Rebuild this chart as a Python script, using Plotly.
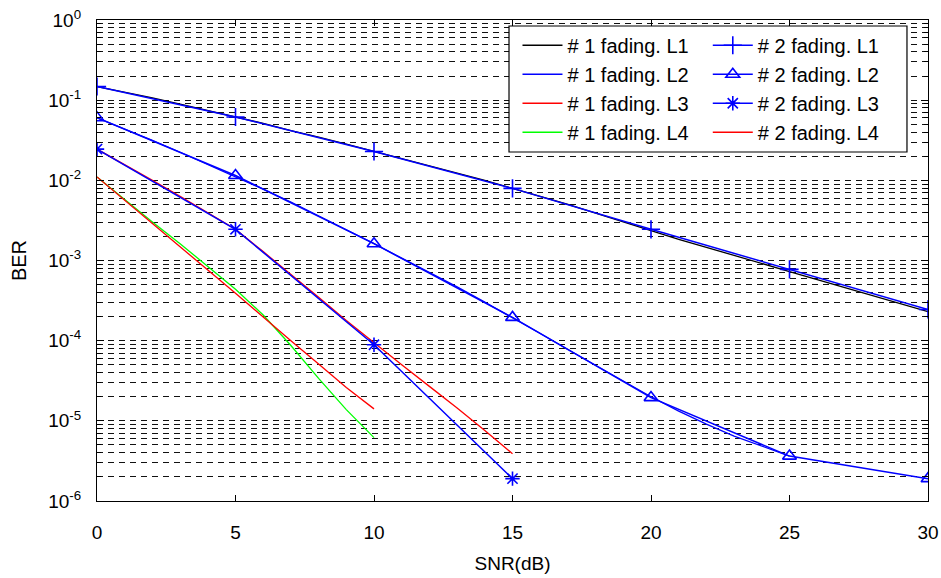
import plotly.graph_objects as go

# ---------------- data ----------------
snr_sim_l1 = list(range(0, 31))
ber_sim_l1 = [0.148, 0.126, 0.107, 0.0891, 0.0741, 0.0617, 0.0513, 0.0417, 0.0347, 0.0282,
              0.0229, 0.0186, 0.0151, 0.0123, 0.0100, 0.00794, 0.00631, 0.00501, 0.00389, 0.00302,
              0.00232, 0.00184, 0.00146, 0.00115, 0.000918, 0.000728, 0.000578, 0.000459, 0.000365,
              0.00029, 0.00023]

snr_sim_l2 = list(range(0, 26))
ber_sim_l2 = [0.0603, 0.0437, 0.0316, 0.0224, 0.0158, 0.0112, 0.00776, 0.00537, 0.00363, 0.00245,
              0.00162, 0.00107, 0.000708, 0.000468, 0.000302, 0.000195, 0.000123, 7.76e-5, 4.9e-5,
              3.09e-5, 2.0e-5, 1.32e-5, 9.12e-6, 6.46e-6, 4.79e-6, 3.63e-6]

snr_sim_l3 = list(range(0, 16))
ber_sim_l3 = [0.0245, 0.0158, 0.0100, 0.00631, 0.00398, 0.00245, 0.00129, 0.000676, 0.000347,
              0.000178, 9.33e-5, 5.01e-5, 2.69e-5, 1.45e-5, 7.59e-6, 3.89e-6]

snr_sim_l4 = list(range(0, 11))
ber_sim_l4 = [0.011, 0.00575, 0.00302, 0.00162, 0.000851, 0.000437, 0.000209, 8.71e-5, 3.39e-5,
              1.38e-5, 6.17e-6]

snr_th = [0, 5, 10, 15, 20, 25, 30]
ber_th_l1 = [0.148, 0.0617, 0.0229, 0.00794, 0.00245, 0.000776, 0.000245]
ber_th_l2 = [0.0603, 0.0115, 0.00162, 0.000195, 1.95e-5, 3.63e-6, 1.9e-6]
snr_th_l3 = [0, 5, 10, 15]
ber_th_l3 = [0.0245, 0.00245, 8.9e-5, 1.9e-6]
snr_th_l4 = list(range(0, 11))
ber_th_l4 = [0.011, 0.0056, 0.0029, 0.00148, 0.00076, 0.00039, 0.0002, 0.0001, 5.1e-5, 2.6e-5, 1.41e-5]

x_ticks = [0, 5, 10, 15, 20, 25, 30]
y_tickvals = [1e0, 1e-1, 1e-2, 1e-3, 1e-4, 1e-5, 1e-6]
y_ticktext = ["10<sup>0</sup>", "10<sup>-1</sup>", "10<sup>-2</sup>", "10<sup>-3</sup>",
              "10<sup>-4</sup>", "10<sup>-5</sup>", "10<sup>-6</sup>"]

names_1 = ["# 1 fading. L1", "# 1 fading. L2", "# 1 fading. L3", "# 1 fading. L4"]
names_2 = ["# 2 fading. L1", "# 2 fading. L2", "# 2 fading. L3", "# 2 fading. L4"]

# ---------------- figure ----------------
FONT = "Arial, Liberation Sans, sans-serif"
BLUE = "#0000ff"
RED = "#ff0000"
GREEN = "#00ff00"

fig = go.Figure()

sim = [(snr_sim_l1, ber_sim_l1, "#000000"),
       (snr_sim_l2, ber_sim_l2, BLUE),
       (snr_sim_l3, ber_sim_l3, RED),
       (snr_sim_l4, ber_sim_l4, GREEN)]
for (x, y, c), n in zip(sim, names_1):
    fig.add_trace(go.Scatter(x=x, y=y, mode="lines", name=n, legend="legend",
                             line=dict(color=c, width=1.3)))

th = [(snr_th, ber_th_l1, BLUE, "cross-thin-open", 13),
      (snr_th, ber_th_l2, BLUE, "triangle-up-open", 12),
      (snr_th_l3, ber_th_l3, BLUE, "asterisk-open", 12),
      (snr_th_l4, ber_th_l4, RED, None, 0)]
for (x, y, c, sym, sz), n in zip(th, names_2):
    if sym:
        fig.add_trace(go.Scatter(x=x, y=y, mode="lines+markers", name=n, legend="legend2",
                                 line=dict(color=c, width=1.5),
                                 marker=dict(symbol=sym, size=sz, color=c,
                                             line=dict(color=c, width=1.6))))
    else:
        fig.add_trace(go.Scatter(x=x, y=y, mode="lines", name=n, legend="legend2",
                                 line=dict(color=c, width=1.3)))

grid_dash = "6px,5px"

fig.update_layout(
    width=941, height=578,
    margin=dict(l=97, r=13, t=20, b=77, autoexpand=False),
    paper_bgcolor="white", plot_bgcolor="white",
    font=dict(family=FONT, color="black", size=18),
    showlegend=True,
    legend=dict(x=0.506, y=0.988, xanchor="left", yanchor="top",
                bgcolor="rgba(0,0,0,0)", borderwidth=0,
                font=dict(size=20, family=FONT), itemwidth=40, tracegroupgap=0),
    legend2=dict(x=0.735, y=0.988, xanchor="left", yanchor="top",
                 bgcolor="rgba(0,0,0,0)", borderwidth=0,
                 font=dict(size=20, family=FONT), itemwidth=40, tracegroupgap=0),
    shapes=[dict(type="rect", xref="paper", yref="paper",
                 x0=0.4958, x1=0.9747, y0=0.7256, y1=0.9875,
                 fillcolor="white", line=dict(color="black", width=1.2), layer="above")],
)

fig.update_xaxes(
    range=[0, 30], tickvals=x_ticks, ticks="inside", ticklen=6, tickcolor="black",
    showline=True, linecolor="black", linewidth=1.2, mirror="ticks",
    showgrid=False, zeroline=False, automargin=False,
    tickfont=dict(size=19, family=FONT), ticklabelstandoff=14,
    title=dict(text="SNR(dB)", font=dict(size=19, family=FONT), standoff=14),
)

fig.update_yaxes(
    type="log", range=[-6, 0], tickvals=y_tickvals, ticktext=y_ticktext,
    ticks="inside", ticklen=7, tickcolor="black",
    showline=True, linecolor="black", linewidth=1.2, mirror="ticks",
    showgrid=True, gridcolor="#111111", gridwidth=1, griddash=grid_dash,
    zeroline=False, automargin=False,
    minor=dict(dtick="D1", ticks="inside", ticklen=4, tickcolor="black",
               showgrid=True, gridcolor="#111111", gridwidth=1, griddash=grid_dash),
    tickfont=dict(size=19, family=FONT), ticklabelstandoff=11,
    title=dict(text="BER", font=dict(size=20, family=FONT), standoff=16),
)

fig.write_html("out.html", config={"displayModeBar": False},
               post_script="document.body.style.margin='0';")
